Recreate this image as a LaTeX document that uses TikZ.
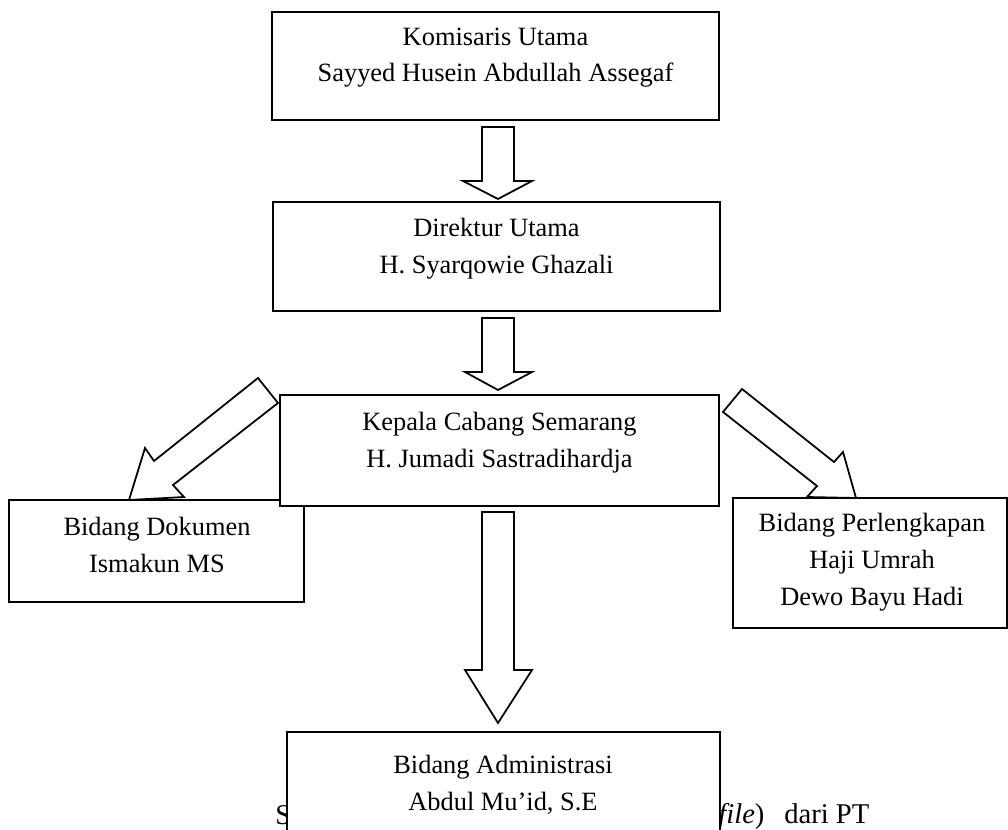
\documentclass[tikz,border=0pt]{standalone}
\usepackage{fontspec}
\setmainfont{Liberation Serif}
\usetikzlibrary{fit}
\begin{document}
\begin{tikzpicture}[x=0.4545pt,y=-0.4545pt,
  box/.style={draw, line width=0.8pt, fill=white, inner sep=0pt},
  txt/.style={align=center, inner sep=0pt, anchor=base, font=\fontsize{12}{16.6}\selectfont},
  blk/.style={draw, line width=0.8pt, fill=white, line join=miter},
  captxt/.style={inner sep=0pt, anchor=base west, font=\fontsize{13}{15}\selectfont}]
\useasboundingbox (0,0) rectangle (1008,829);
\clip (0,0) rectangle (1008,829);
% boxes
\node[box, fit={(272,12) (719,120)}] (kom) {};
\node[txt] (tkom) at (495.5,82) {Komisaris Utama\\Sayyed Husein Abdullah Assegaf};
\node[box, fit={(273,202) (720,311)}] (dir) {};
\node[txt] (tdir) at (496.5,273) {Direktur Utama\\H. Syarqowie Ghazali};
\node[box, fit={(9,500) (304,602)}] (dok) {};
\node[txt] (tdok) at (157,572) {Bidang Dokumen\\Ismakun MS};
\node[box, fit={(733,498) (1007,628)}] (per) {};
\node[txt] (tper) at (872,605) {Bidang Perlengkapan\\Haji Umrah\\Dewo Bayu Hadi};
% block arrows
\draw[blk] (482,127) -- (514,127) -- (514,181) -- (532,181) -- (498,199) -- (463,181) -- (482,181) -- cycle;
\draw[blk] (482,318) -- (514,318) -- (514,372) -- (532,372) -- (498,390) -- (465,372) -- (482,372) -- cycle;
\draw[blk] (258,378) -- (278,403) -- (173,485) -- (184,497) -- (129,500) -- (145,448) -- (154,461) -- cycle;
\draw[blk] (742,389) -- (834,462) -- (843,452) -- (856,498) -- (807,497) -- (817,486) -- (723,412) -- cycle;
\draw[blk] (482,512) -- (514,512) -- (514,670) -- (532,670) -- (498,723) -- (465,670) -- (482,670) -- cycle;
% Kepala
\node[box, fit={(280,395) (719,506)}] (kep) {};
\node[txt] (tkep) at (499.5,467) {Kepala Cabang Semarang\\H. Jumadi Sastradihardja};
% caption behind admin box
\node[captxt] (capS) at (275,824) {S};
\node[captxt] (capR) at (718,823) {\textit{file})\hspace{9pt}dari PT};
% admin
\node[box, fit={(287,732) (720,870)}] (adm) {};
\node[txt] (tadm) at (503,810) {Bidang Administrasi\\Abdul Mu’id, S.E};
\end{tikzpicture}
\end{document}
